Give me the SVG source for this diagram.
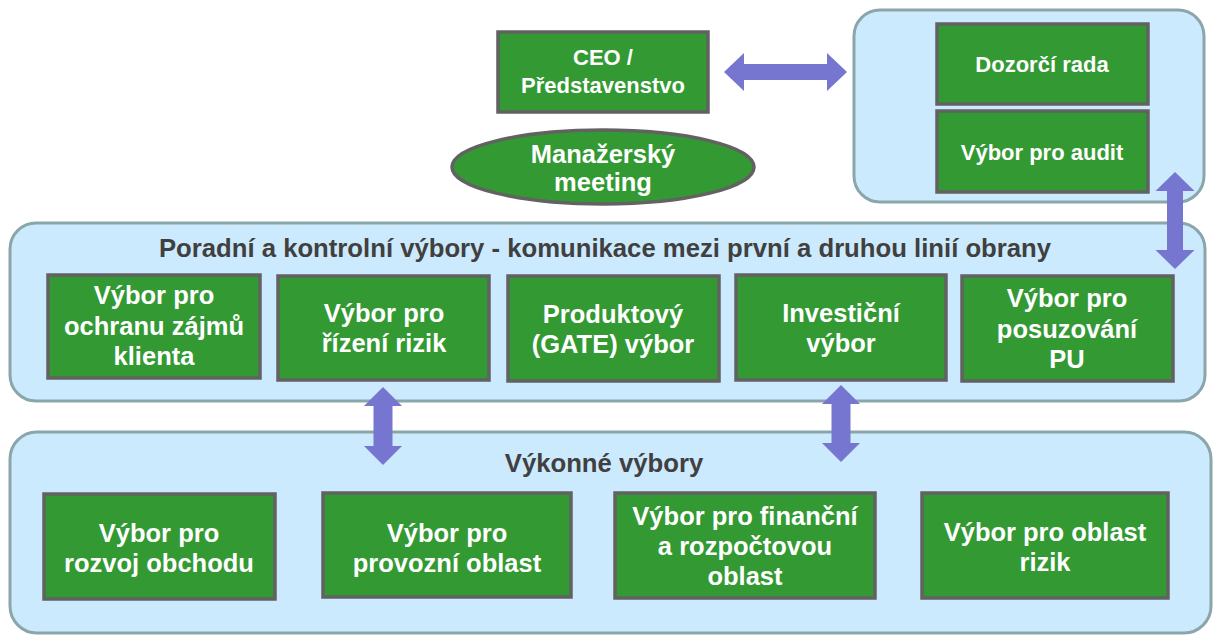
<svg xmlns="http://www.w3.org/2000/svg" width="1214" height="635" viewBox="0 0 1214 635">
<style>
.panel{fill:#cceafd;stroke:#8ba6aa;stroke-width:3}
.box{fill:#339933;stroke:#626262;stroke-width:3.5}
.t{font-family:"Liberation Sans",Arial,sans-serif;font-weight:bold;fill:#ffffff;text-anchor:middle}
.b{font-size:25.5px}
.s{font-size:22px}
.title{font-family:"Liberation Sans",Arial,sans-serif;font-weight:bold;fill:#404040;text-anchor:middle;font-size:25.7px}
.arrow{fill:#7676d0}
</style>
<rect width="1214" height="635" fill="#ffffff"/>

<g id="panel-top">
<rect class="panel" x="854" y="10" width="350" height="192" rx="26"/>
</g>
<g id="panel-middle">
<rect class="panel" x="10" y="223" width="1195" height="178" rx="26"/>
<text class="title" x="605" y="257">Poradní a kontrolní výbory - komunikace mezi první a druhou linií obrany</text>
</g>
<g id="panel-bottom">
<rect class="panel" x="10" y="432" width="1201" height="201" rx="27"/>
<text class="title" x="604" y="472">Výkonné výbory</text>
</g>

<g id="ceo">
<rect class="box" x="498" y="32" width="210" height="80"/>
<text class="t s" x="603" y="65">CEO /</text>
<text class="t s" x="603" y="93">Představenstvo</text>
</g>
<g id="manazersky-meeting">
<ellipse class="box" cx="603" cy="167" rx="151" ry="37"/>
<text class="t b" x="603" y="163">Manažerský</text>
<text class="t b" x="603" y="191">meeting</text>
</g>
<g id="dozorci-rada">
<rect class="box" x="937" y="24" width="211" height="80"/>
<text class="t s" x="1042" y="72">Dozorčí rada</text>
</g>
<g id="vybor-audit">
<rect class="box" x="937" y="111" width="211" height="81"/>
<text class="t s" x="1042" y="160">Výbor pro audit</text>
</g>

<g id="vybor-ochrana">
<rect class="box" x="48" y="275" width="212" height="103"/>
<text class="t b" x="154" y="304">Výbor pro</text>
<text class="t b" x="154" y="335">ochranu zájmů</text>
<text class="t b" x="154" y="365">klienta</text>
</g>
<g id="vybor-rizeni-rizik">
<rect class="box" x="278" y="276" width="211" height="104"/>
<text class="t b" x="384" y="322">Výbor pro</text>
<text class="t b" x="384" y="352">řízení rizik</text>
</g>
<g id="produktovy-vybor">
<rect class="box" x="508" y="276" width="211" height="105"/>
<text class="t b" x="613" y="323">Produktový</text>
<text class="t b" x="613" y="353">(GATE) výbor</text>
</g>
<g id="investicni-vybor">
<rect class="box" x="736" y="275" width="210" height="105"/>
<text class="t b" x="841" y="322">Investiční</text>
<text class="t b" x="841" y="352">výbor</text>
</g>
<g id="vybor-posuzovani">
<rect class="box" x="962" y="276" width="211" height="105"/>
<text class="t b" x="1067" y="307">Výbor pro</text>
<text class="t b" x="1067" y="338">posuzování</text>
<text class="t b" x="1067" y="368">PU</text>
</g>

<g id="vybor-rozvoj">
<rect class="box" x="44" y="494" width="231" height="105"/>
<text class="t b" x="159" y="542">Výbor pro</text>
<text class="t b" x="159" y="572">rozvoj obchodu</text>
</g>
<g id="vybor-provozni">
<rect class="box" x="323" y="493" width="248" height="104"/>
<text class="t b" x="447" y="542">Výbor pro</text>
<text class="t b" x="447" y="572">provozní oblast</text>
</g>
<g id="vybor-financni">
<rect class="box" x="615" y="493" width="260" height="105"/>
<text class="t b" x="745" y="525">Výbor pro finanční</text>
<text class="t b" x="745" y="555">a rozpočtovou</text>
<text class="t b" x="745" y="585">oblast</text>
</g>
<g id="vybor-oblast-rizik">
<rect class="box" x="922" y="493" width="246" height="105"/>
<text class="t b" x="1045" y="541">Výbor pro oblast</text>
<text class="t b" x="1045" y="571">rizik</text>
</g>

<g id="connectors">
<polygon class="arrow" points="724,72 744,53 744,64 827,64 827,53 847,72 827,91 827,80 744,80 744,91"/>
<polygon class="arrow" points="1175,172 1194.5,191 1183,191 1183,250 1194.5,250 1175,269 1155.5,250 1167,250 1167,191 1155.5,191"/>
<polygon class="arrow" points="383,387 402,406 392.5,406 392.5,446 402,446 383,465 364,446 373.5,446 373.5,406 364,406"/>
<polygon class="arrow" points="841,385 860,404 850.5,404 850.5,443 860,443 841,462 822,443 831.5,443 831.5,404 822,404"/>
</g>
</svg>
